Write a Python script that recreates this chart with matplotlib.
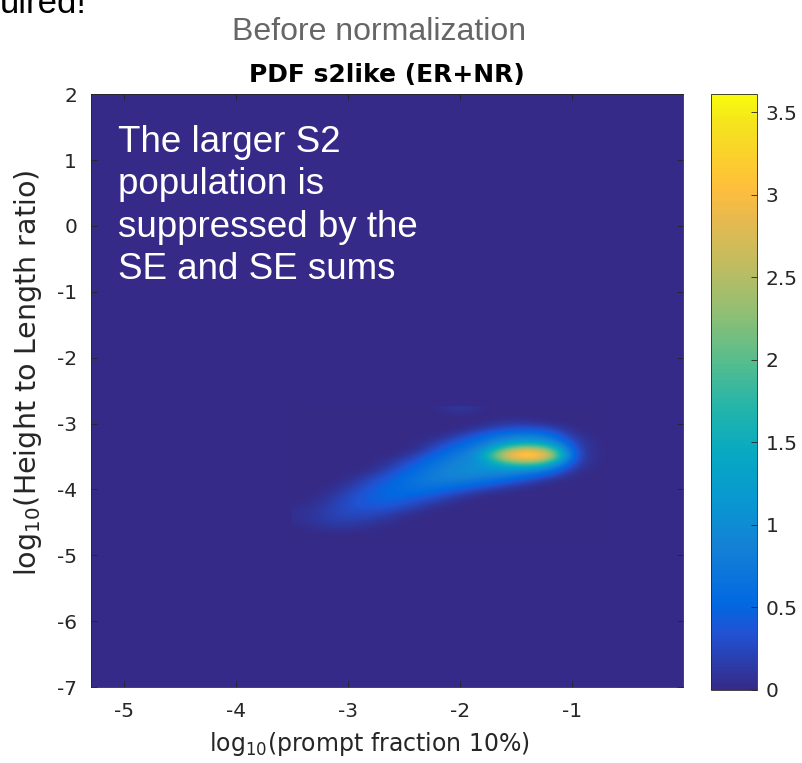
import matplotlib
matplotlib.use("Agg")
import matplotlib.pyplot as plt
import numpy as np
from matplotlib.colors import LinearSegmentedColormap

# parula-like colormap (MATLAB default)
parula_pos = [0/63, 6/63, 9/63, 15/63, 20/63, 25/63, 30/63, 35/63, 40/63, 45/63, 50/63, 53/63, 56/63, 60/63, 1.0]
parula_rgb = [(0.2081, 0.1663, 0.5292), (0.1253, 0.3242, 0.8303), (0.0060, 0.4086, 0.8828),
              (0.0779, 0.5040, 0.8384), (0.0343, 0.5966, 0.8199), (0.0267, 0.6642, 0.7607),
              (0.1453, 0.7098, 0.6646), (0.3482, 0.7424, 0.5473), (0.5709, 0.7485, 0.4494),
              (0.7525, 0.7384, 0.3768), (0.9139, 0.7258, 0.3063), (0.9938, 0.7455, 0.2403),
              (0.9880, 0.8066, 0.1794), (0.9589, 0.8949, 0.1132), (0.9763, 0.9831, 0.0538)]
parula = LinearSegmentedColormap.from_list("parula", list(zip(parula_pos, parula_rgb)))

# grid of the PDF (columns = x, rows = y from top to bottom)
x_vals = [-3.4, -3.2, -3.0, -2.8, -2.6, -2.4, -2.2, -2.0, -1.8, -1.6, -1.4, -1.2, -1.0, -0.8]
y_vals = [-2.8, -2.9, -3.0, -3.1, -3.2, -3.3, -3.4, -3.5, -3.6, -3.7, -3.8,
          -3.9, -4.0, -4.1, -4.2, -4.3, -4.4, -4.5, -4.6, -4.7, -4.8]
pdf = [
    [0, 0, 0, 0, 0, 0, 0, 0.15, 0, 0, 0, 0, 0, 0],
    [0, 0, 0, 0, 0, 0, 0, 0, 0, 0, 0, 0, 0, 0],
    [0, 0, 0, 0, 0, 0, 0, 0, 0, 0.1, 0.1, 0, 0, 0],
    [0, 0, 0, 0, 0, 0, 0, 0, 0.15, 0.35, 0.4, 0.3, 0, 0],
    [0, 0, 0, 0, 0, 0, 0, 0.2, 0.5, 0.75, 0.85, 0.65, 0.1, 0],
    [0, 0, 0, 0, 0, 0, 0.15, 0.45, 0.7, 1.1, 1.4, 1.1, 0.25, 0],
    [0, 0, 0, 0, 0, 0, 0.35, 0.65, 0.9, 2.1, 2.8, 2.2, 0.3, 0],
    [0, 0, 0, 0, 0, 0.2, 0.55, 0.8, 1.15, 3.0, 3.6, 3.0, 0.35, 0],
    [0, 0, 0, 0, 0.1, 0.4, 0.7, 0.9, 1.1, 1.9, 2.4, 1.8, 0.25, 0],
    [0, 0, 0, 0, 0.25, 0.55, 0.8, 1.0, 1.05, 1.15, 1.15, 0.8, 0.1, 0],
    [0, 0, 0, 0.15, 0.4, 0.65, 0.85, 0.95, 0.9, 0.8, 0.6, 0.3, 0, 0],
    [0, 0, 0.05, 0.3, 0.5, 0.7, 0.8, 0.75, 0.6, 0.4, 0.2, 0, 0, 0],
    [0, 0, 0.15, 0.4, 0.55, 0.65, 0.6, 0.45, 0.25, 0.1, 0, 0, 0, 0],
    [0, 0.05, 0.25, 0.45, 0.55, 0.5, 0.35, 0.15, 0, 0, 0, 0, 0, 0],
    [0, 0.1, 0.3, 0.45, 0.45, 0.3, 0.15, 0, 0, 0, 0, 0, 0, 0],
    [0.05, 0.15, 0.3, 0.35, 0.3, 0.15, 0, 0, 0, 0, 0, 0, 0, 0],
    [0.05, 0.18, 0.25, 0.25, 0.12, 0, 0, 0, 0, 0, 0, 0, 0, 0],
    [0.05, 0.15, 0.18, 0.12, 0.03, 0, 0, 0, 0, 0, 0, 0, 0, 0],
    [0, 0.08, 0.08, 0.03, 0, 0, 0, 0, 0, 0, 0, 0, 0, 0],
    [0, 0, 0, 0, 0, 0, 0, 0, 0, 0, 0, 0, 0, 0],
    [0, 0, 0, 0, 0, 0, 0, 0, 0, 0, 0, 0, 0, 0],
]
x_ticks = [-5, -4, -3, -2, -1]
y_ticks = [-7, -6, -5, -4, -3, -2, -1, 0, 1, 2]
cbar_ticks = [0, 0.5, 1, 1.5, 2, 2.5, 3, 3.5]

note = "The larger S2\npopulation is\nsuppressed by the\nSE and SE sums"

tick_col = "#262626"
fig = plt.figure(figsize=(8.02, 7.63), dpi=100)
ax = fig.add_axes([0.1135, 0.0996, 0.738, 0.777])
cax = fig.add_axes([0.8865, 0.0957, 0.0574, 0.7811])

ax.set_facecolor(parula(0.0))
dx = (x_vals[1] - x_vals[0]) / 2
dy = (y_vals[0] - y_vals[1]) / 2
im = ax.imshow(np.array(pdf), cmap=parula, vmin=0, vmax=3.61, interpolation="bicubic",
               extent=[x_vals[0] - dx, x_vals[-1] + dx, y_vals[-1] - dy, y_vals[0] + dy],
               origin="upper", aspect="auto")
ax.set_xlim(-5.29, -0.01)
ax.set_ylim(-7, 2)
ax.set_xticks(x_ticks)
ax.set_yticks(y_ticks)
ax.set_xticklabels([str(v) for v in x_ticks])
ax.set_yticklabels([str(v) for v in y_ticks])
ax.tick_params(direction="in", top=True, right=True, length=4, width=0.6,
               colors=tick_col, labelsize=14.5)
ax.tick_params(axis="x", pad=11)
ax.tick_params(axis="y", pad=10)
for s in ax.spines.values():
    s.set_color(tick_col)
    s.set_linewidth(0.6)

ax.set_xlabel("log$_{10}$(prompt fraction 10%)", fontsize=17, color=tick_col)
ax.set_ylabel("log$_{10}$(Height to Length ratio)", fontsize=20.5, color=tick_col)
ax.xaxis.set_label_coords(0.471, -0.072)
ax.yaxis.set_label_coords(-0.08, 0.53)

cb = fig.colorbar(im, cax=cax, ticks=cbar_ticks)
cb.ax.set_yticklabels([f"{v:g}" for v in cbar_ticks])
cb.ax.tick_params(direction="in", length=4, width=0.6, colors=tick_col, labelsize=14.5, pad=6)
cb.outline.set_edgecolor(tick_col)
cb.outline.set_linewidth(0.6)

fig.text(0.482, 0.8925, "PDF s2like (ER+NR)", ha="center", va="baseline",
         fontsize=18, fontweight="bold", color="black")
fig.text(0.4726, 0.9476, "Before normalization", ha="center", va="baseline",
         fontsize=23, color="#666666", family="Liberation Sans")
fig.text(0.1085, 0.983, "uired!", ha="right", va="baseline",
         fontsize=25, color="black", family="Liberation Sans")
fig.text(118 / 802, 1 - 125 / 763, note, ha="left", va="top", fontsize=26.5,
         color="white", family="Liberation Sans", linespacing=1.27)

fig.savefig("out.png", dpi=100)
